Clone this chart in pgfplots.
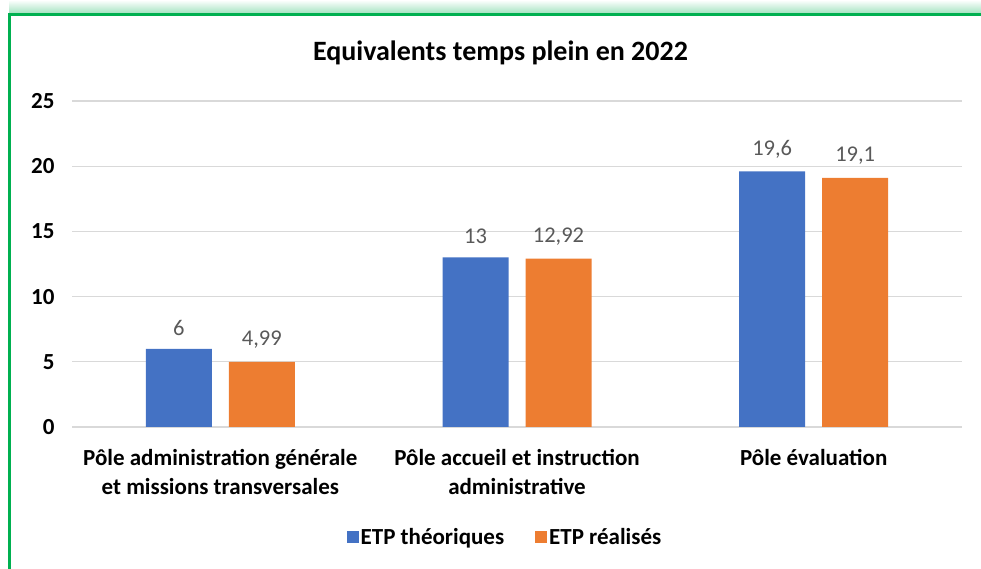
\documentclass[border=0pt]{standalone}
\usepackage{fontspec}
\setmainfont{Carlito}
\usepackage{pgfplots}
\pgfplotsset{compat=1.18}
\definecolor{etpblue}{RGB}{68,114,196}
\definecolor{etporange}{RGB}{237,125,49}
\definecolor{gridgray}{RGB}{217,217,217}
\definecolor{labelgray}{RGB}{89,89,89}
\definecolor{framegreen}{RGB}{0,176,80}

\begin{document}
\begin{tikzpicture}
  \useasboundingbox (0,0) rectangle (981bp,569bp);

  % green frame (left + top) with soft shadow above
  \shade[top color=white, bottom color=framegreen!35] (9bp,556bp) rectangle (981bp,569bp);
  \draw[framegreen, line width=3bp] (9.5bp,0) -- (9.5bp,554.5bp) -- (981bp,554.5bp);

  \node[font=\fontsize{28bp}{31bp}\selectfont\bfseries] at (500.5bp,516bp)
    {Equivalents temps plein en 2022};

  \begin{axis}[
      at={(72bp,142bp)}, anchor=south west,
      scale only axis,
      width=890bp, height=326bp,
      ybar=17bp, bar width=66bp,
      xmin=-0.5, xmax=2.5,
      ymin=0, ymax=25,
      ytick={0,5,10,15,20,25},
      xtick={0,1,2},
      xticklabels={{P\^ole administration g\'en\'erale\\et missions transversales},
                   {P\^ole accueil et instruction\\administrative},
                   {P\^ole \'evaluation}},
      axis line style={draw=none},
      ymajorgrids,
      grid style={gridgray, line width=1.2bp},
      major tick length=0pt,
      yticklabel style={font=\fontsize{23bp}{26bp}\selectfont\bfseries, xshift=-14bp},
      xticklabel style={font=\fontsize{23bp}{29bp}\selectfont\bfseries,
                        align=center, anchor=north, yshift=-19bp},
      /pgf/number format/assume math mode=true,
      point meta=explicit symbolic,
      nodes near coords,
      every node near coord/.append style={font=\fontsize{22.5bp}{26bp}\selectfont,
                        color=labelgray, anchor=south, yshift=10bp},
      legend style={at={(0.4865,-0.337)}, anchor=center, draw=none,
                    legend columns=2, font=\fontsize{23bp}{26bp}\selectfont\bfseries,
                    /tikz/every odd column/.append style={column sep=0bp},
                    /tikz/every even column/.append style={column sep=29bp}},
      legend image code/.code={\fill[#1] (0bp,-6bp) rectangle (12bp,6bp);},
      clip=false,
  ]
    \addplot[fill=etpblue, draw=none]
      coordinates {(0,6)[6] (1,13)[13] (2,19.6)[19,6]};
    \addplot[fill=etporange, draw=none]
      coordinates {(0,4.99)[4,99] (1,12.92)[12,92] (2,19.1)[19,1]};
    \legend{ETP th\'eoriques, ETP r\'ealis\'es}
  \end{axis}
\end{tikzpicture}
\end{document}
